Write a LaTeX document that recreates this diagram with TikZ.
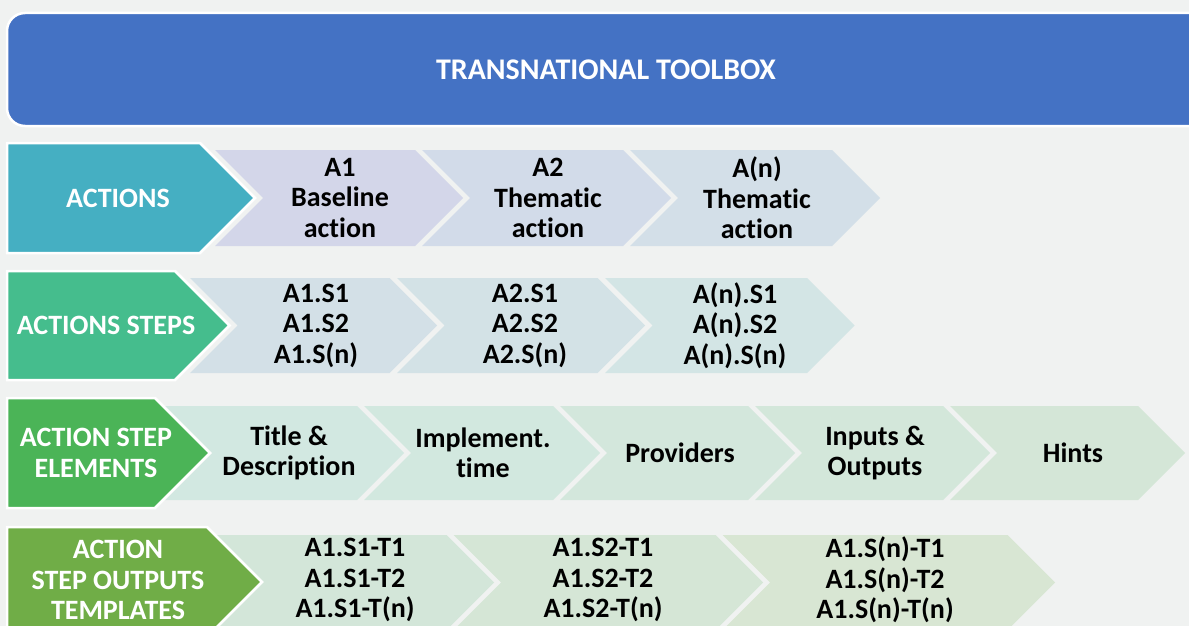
\documentclass[tikz,border=0pt]{standalone}
\usepackage{fontspec}
\setmainfont{Carlito}[Ligatures=NoCommon]
\definecolor{bgc}{HTML}{F0F2F1}
\definecolor{banner}{HTML}{4472C4}
\definecolor{pa}{HTML}{45AFC2}
\definecolor{pb}{HTML}{45BD8D}
\definecolor{pc}{HTML}{4BB457}
\definecolor{pd}{HTML}{70AD47}
\definecolor{ra1}{HTML}{D3D6E9}
\definecolor{ra2}{HTML}{D2DBE9}
\definecolor{ra3}{HTML}{D3DFE8}
\definecolor{rb1}{HTML}{D3E0E7}
\definecolor{rb2}{HTML}{D3E2E6}
\definecolor{rb3}{HTML}{D3E5E5}
\definecolor{rc1}{HTML}{D2E8E1}
\definecolor{rc2}{HTML}{D2E8DF}
\definecolor{rc3}{HTML}{D3E7DC}
\definecolor{rc4}{HTML}{D3E7DA}
\definecolor{rc5}{HTML}{D4E6D7}
\definecolor{rd1}{HTML}{D3E6D9}
\definecolor{rd2}{HTML}{D5E6D6}
\definecolor{rd3}{HTML}{D8E6D3}
\newcommand\mychev[5]{%
  \fill[#5] (#1,#3) -- (#2,#3) -- ({#2+(#4-#3)/2},{(#3+#4)/2}) -- (#2,#4) -- (#1,#4) -- ({#1+(#4-#3)/2},{(#3+#4)/2}) -- cycle;}
\newcommand\mypent[5]{%
  \filldraw[#5, draw=white, line width=2.5pt] (#1,#3) -- (#2,#3) -- ({#2+(#4-#3)/2},{(#3+#4)/2}) -- (#2,#4) -- (#1,#4) -- cycle;}
\tikzset{
  chevtxt/.style={align=center, font=\bfseries\fontsize{28}{30.5}\selectfont, text=black, inner sep=0pt},
  penttxt/.style={align=center, font=\bfseries\fontsize{28}{30.5}\selectfont, text=white, inner sep=0pt},
}
\begin{document}
\begin{tikzpicture}[x=1pt,y=-1pt]
\fill[bgc] (0,0) rectangle (1189,626);
\useasboundingbox (0,0) rectangle (1189,626);
% banner
\filldraw[banner, draw=white, line width=2.5pt, rounded corners=18pt] (7,13) rectangle (1210,126);
\node[penttxt, font=\bfseries\fontsize{30}{32}\selectfont] (title) at (606,70) {TRANSNATIONAL TOOLBOX};
% row 1
\mychev{630}{832}{150}{246}{ra3}
\mychev{422}{623}{150}{246}{ra2}
\mychev{215}{415}{150}{246}{ra1}
\mypent{7}{200}{143}{253}{pa}
\node[penttxt] (actions) at (118,198) {ACTIONS};
\node[chevtxt] (a1) at (340,198) {A1\\Baseline\\action};
\node[chevtxt] (a2) at (548,198) {A2\\Thematic\\action};
\node[chevtxt] (an) at (757,198) {A(n)\\Thematic\\action};
% row 2
\mychev{605}{807}{278}{373}{rb3}
\mychev{397}{597.5}{278}{373}{rb2}
\mychev{190}{389.5}{278}{373}{rb1}
\mypent{7}{175}{271}{380}{pb}
\node[penttxt] (steps) at (106,325.5) {ACTIONS STEPS};
\node[chevtxt] (s1) at (316,325.5) {A1.S1\\A1.S2\\A1.S(n)};
\node[chevtxt] (s2) at (525,325.5) {A2.S1\\A2.S2\\A2.S(n)};
\node[chevtxt] (sn) at (735,325.5) {A(n).S1\\A(n).S2\\A(n).S(n)};
% row 3
\mychev{950}{1138}{406}{500}{rc5}
\mychev{755}{943}{406}{500}{rc4}
\mychev{560}{748}{406}{500}{rc3}
\mychev{364}{553}{406}{500}{rc2}
\mychev{165}{357}{406}{500}{rc1}
\mypent{7}{155}{398}{508}{pc}
\node[penttxt] (elements) at (96,453) {ACTION STEP\\ELEMENTS};
\node[chevtxt] (e1) at (289,453) {Title \&\\Description};
\node[chevtxt] (e2) at (483,453) {Implement.\\time};
\node[chevtxt] (e3) at (680,453) {Providers};
\node[chevtxt] (e4) at (875,453) {Inputs \&\\Outputs};
\node[chevtxt] (e5) at (1073,453) {Hints};
% row 4
\mychev{722.5}{1007.5}{535}{630}{rd3}
\mychev{453.5}{715.5}{535}{630}{rd2}
\mychev{215}{446.5}{535}{630}{rd1}
\mypent{7}{207}{527}{637}{pd}
\node[penttxt] (templates) at (118,580) {ACTION\\STEP OUTPUTS\\TEMPLATES};
\node[chevtxt] (t1) at (355,580) {A1.S1-T1\\A1.S1-T2\\A1.S1-T(n)};
\node[chevtxt] (t2) at (603,580) {A1.S2-T1\\A1.S2-T2\\A1.S2-T(n)};
\node[chevtxt] (t3) at (885,580) {A1.S(n)-T1\\A1.S(n)-T2\\A1.S(n)-T(n)};
\end{tikzpicture}
\end{document}
